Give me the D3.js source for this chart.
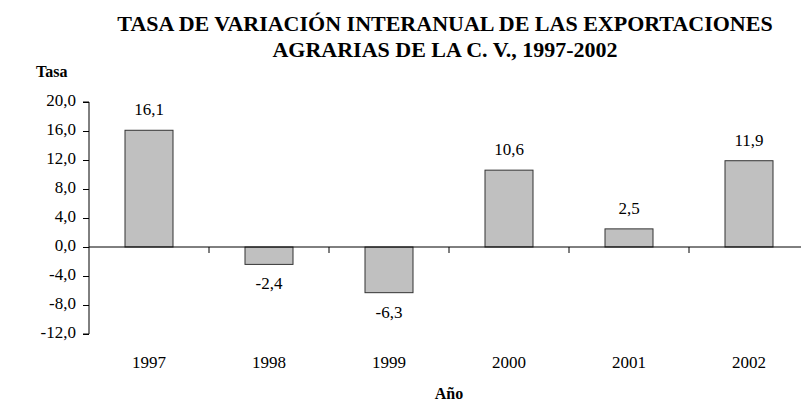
<!DOCTYPE html>
<html lang="es">
<head>
<meta charset="UTF-8">
<script src="https://cdnjs.cloudflare.com/ajax/libs/d3/7.8.5/d3.min.js"></script>
<style>
  body { margin: 0; background: #fff; }
  text { font-family: "Liberation Serif", "Times New Roman", serif; fill: #000; }
</style>
</head>
<body>
<div id="chart"></div>
<script>
// data
let years = ["1997", "1998", "1999", "2000", "2001", "2002"];
let tasa = [16.1, -2.4, -6.3, 10.6, 2.5, 11.9];
let yTicks = [-12, -8, -4, 0, 4, 8, 12, 16, 20];

let width = 801, height = 408;
let plotLeft = 89, plotTop = 102, plotBottom = 334;

let svg = d3.select("#chart").append("svg")
  .attr("width", width)
  .attr("height", height);

let fmt = d => d3.format(".1f")(d).replace(".", ",").replace("−", "-");

let x = d3.scaleBand().domain(years).range([plotLeft, plotLeft + 720]).paddingInner(0);
let y = d3.scaleLinear().domain([-12, 20]).range([plotBottom, plotTop]);

// title
svg.append("text")
  .attr("x", 445).attr("y", 31)
  .attr("text-anchor", "middle")
  .attr("font-weight", "bold").attr("font-size", "22px")
  .text("TASA DE VARIACIÓN INTERANUAL DE LAS EXPORTACIONES");
svg.append("text")
  .attr("x", 445).attr("y", 57)
  .attr("text-anchor", "middle")
  .attr("font-weight", "bold").attr("font-size", "22px")
  .text("AGRARIAS DE LA C. V., 1997-2002");

svg.append("text")
  .attr("x", 36).attr("y", 77)
  .attr("font-weight", "bold").attr("font-size", "16px")
  .text("Tasa");

// bars
let bw = x.bandwidth() * 0.4;
svg.selectAll("rect.bar")
  .data(tasa)
  .enter()
  .append("rect")
  .attr("class", "bar")
  .attr("x", (d, i) => x(years[i]) + (x.bandwidth() - bw) / 2)
  .attr("y", d => y(Math.max(0, d)))
  .attr("width", bw)
  .attr("height", d => Math.abs(y(d) - y(0)))
  .attr("fill", "#c0c0c0")
  .attr("stroke", "#333")
  .attr("stroke-width", 1);

// value labels
svg.selectAll("text.val")
  .data(tasa)
  .enter()
  .append("text")
  .attr("class", "val")
  .attr("x", (d, i) => x(years[i]) + x.bandwidth() / 2)
  .attr("y", d => d >= 0 ? y(d) - 15 : y(d) + 25)
  .attr("text-anchor", "middle")
  .attr("font-size", "17px")
  .text(fmt);

// y axis
let yAxis = d3.axisLeft(y).tickValues(yTicks).tickSize(6).tickFormat(fmt);
let gy = svg.append("g").attr("transform", `translate(${plotLeft},0)`).call(yAxis);
gy.select(".domain").attr("stroke", "#000").attr("d", `M-6,${plotTop}H0V${plotBottom}H-6`);
gy.selectAll("text")
  .attr("font-size", "17px")
  .attr("font-family", "Liberation Serif, serif")
  .attr("x", -13)
  .attr("dy", "0.21em");

// zero line with category ticks
svg.append("line")
  .attr("x1", plotLeft).attr("x2", plotLeft + 720)
  .attr("y1", y(0)).attr("y2", y(0))
  .attr("stroke", "#000");
svg.selectAll("line.ct")
  .data(years.slice(1))
  .enter()
  .append("line")
  .attr("class", "ct")
  .attr("x1", d => x(d)).attr("x2", d => x(d))
  .attr("y1", y(0)).attr("y2", y(0) + 6)
  .attr("stroke", "#000");

// year labels
svg.selectAll("text.yr")
  .data(years)
  .enter()
  .append("text")
  .attr("class", "yr")
  .attr("x", d => x(d) + x.bandwidth() / 2)
  .attr("y", 368)
  .attr("text-anchor", "middle")
  .attr("font-size", "17px")
  .text(d => d);

svg.append("text")
  .attr("x", x("1999") + x.bandwidth() / 2 + 60).attr("y", 399)
  .attr("text-anchor", "middle")
  .attr("font-weight", "bold").attr("font-size", "16px")
  .text("Año");
</script>
</body>
</html>
